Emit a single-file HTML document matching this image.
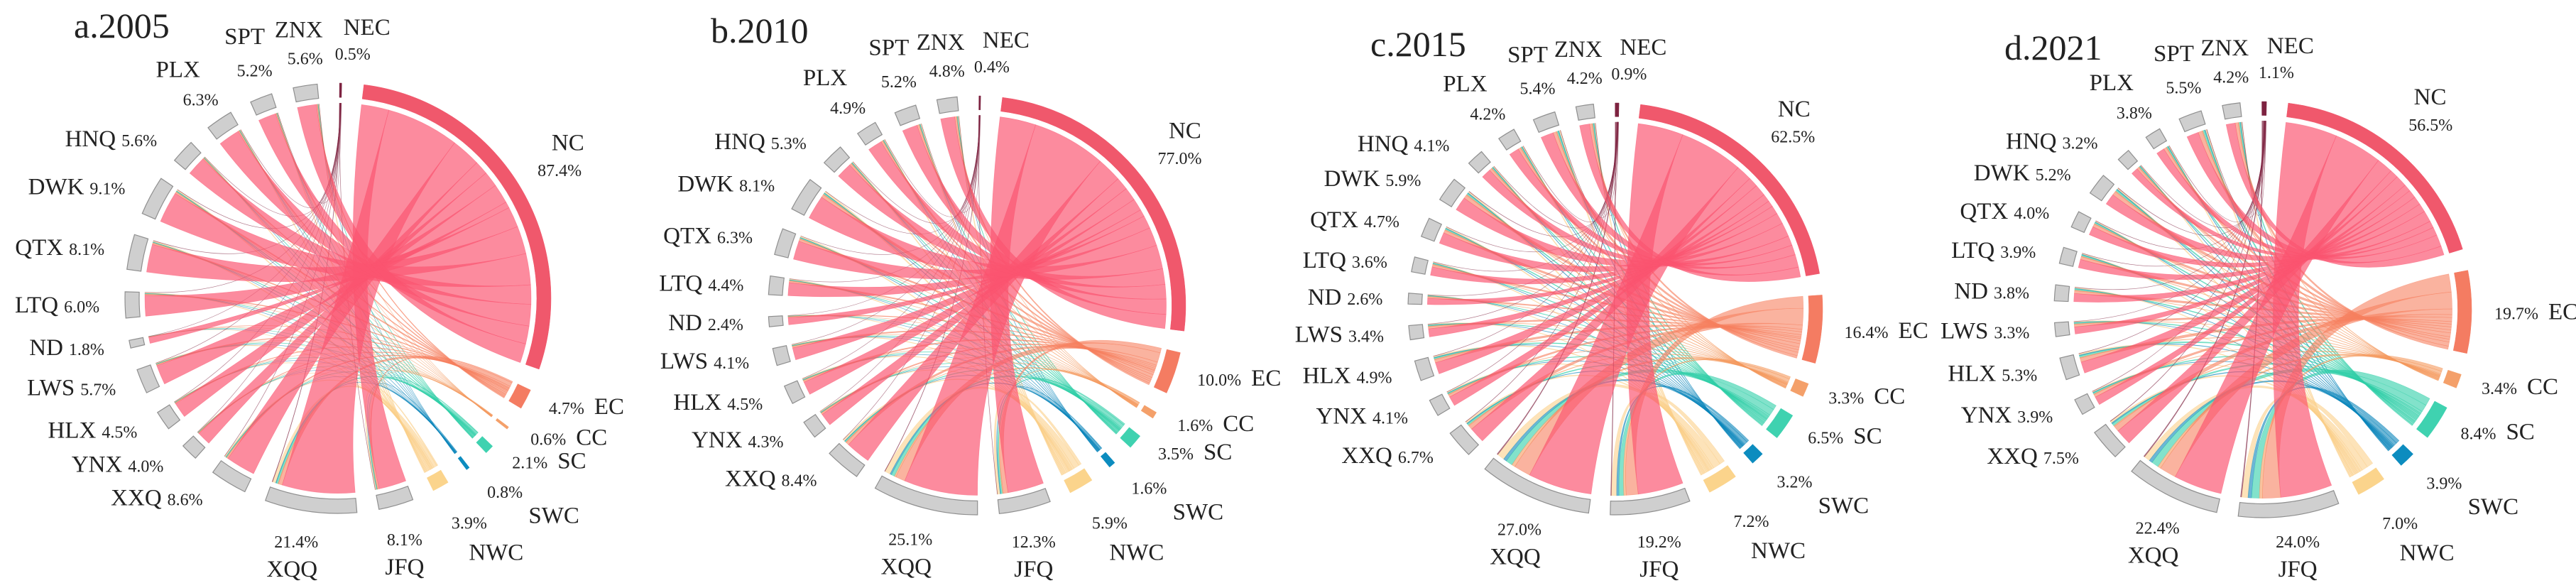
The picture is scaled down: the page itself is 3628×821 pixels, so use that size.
<!DOCTYPE html>
<html><head><meta charset="utf-8">
<style>
html,body{margin:0;padding:0;background:#fff;width:3628px;height:821px;overflow:hidden;}
svg{display:block;position:absolute;left:0;top:0;overflow:hidden;}
text{font-family:"Liberation Serif","DejaVu Serif",serif;fill:#222;}
</style></head>
<body>
<svg id="chart" width="3628" height="821" viewBox="0 0 3628 821" xmlns="http://www.w3.org/2000/svg"></svg>
<script>
const srcNames = ["NC","EC","CC","SC","SWC","NWC","NEC"];
const dstNames = ["JFQ","XQQ","XXQ","YNX","HLX","LWS","ND","LTQ","QTX","DWK","HNQ","PLX","SPT","ZNX"];
const titles = ["a.2005","b.2010","c.2015","d.2021"];
const srcA = [87.4,4.7,0.6,2.1,0.8,3.9,0.5];
const dstA = [8.1,21.4,8.6,4.0,4.5,5.7,1.8,6.0,8.1,9.1,5.6,6.3,5.2,5.6];
const srcB = [77.0,10.0,1.6,3.5,1.6,5.9,0.4];
const dstB = [12.3,25.1,8.4,4.3,4.5,4.1,2.4,4.4,6.3,8.1,5.3,4.9,5.2,4.8];
const srcC = [62.5,16.4,3.3,6.5,3.2,7.2,0.9];
const dstC = [19.2,27.0,6.7,4.1,4.9,3.4,2.6,3.6,4.7,5.9,4.1,4.2,5.4,4.2];
const srcD = [56.5,19.7,3.4,8.4,3.9,7.0,1.1];
const dstD = [24.0,22.4,7.5,3.9,5.3,3.3,3.8,3.9,4.0,5.2,3.2,3.8,5.5,4.2];

const panels = [
  {cx:476, cy:420, rx:300, ry:303, tx:104, ty:53, src:srcA, dst:dstA},
  {cx:1376,cy:430, rx:294, ry:295, tx:1001,ty:60, src:srcB, dst:dstB},
  {cx:2275,cy:435, rx:292, ry:290, tx:1930,ty:79, src:srcC, dst:dstC},
  {cx:3187,cy:436, rx:294, ry:293, tx:2823,ty:84, src:srcD, dst:dstD}
];
const srcRing = {NC:"#f0586c",EC:"#f47c62",CC:"#f4a06a",SC:"#3fd2b0",SWC:"#0c8cbf",NWC:"#fbd48c",NEC:"#7d2240"};
const srcRib  = {NC:"#fb5470",EC:"#f7805f",CC:"#f59a5e",SC:"#2fcfa8",SWC:"#0a86bb",NWC:"#fcd08a",NEC:"#7d2240"};
const NS="http://www.w3.org/2000/svg";
const svg=document.getElementById('chart');
function mk(tag,attrs,parent){const e=document.createElementNS(NS,tag);for(const k in attrs)e.setAttribute(k,attrs[k]);(parent||svg).appendChild(e);return e;}
const GAP=6, START=7;
const D2R=Math.PI/180;
const VY=0.91;

panels.forEach((P,pi)=>{
  const g=mk('g',{});
  
  
  const sx=P.rx/300, sy=P.ry/300;
  const pt=(a,r)=>[P.cx+r*Math.sin(a*D2R)*sx, P.cy-r*Math.cos(a*D2R)*sy];
  const total=P.src.reduce((a,b)=>a+b,0)+P.dst.reduce((a,b)=>a+b,0);
  const unit=(360-21*GAP)/total;
  const order=[];
  for(let i=0;i<6;i++)order.push({n:srcNames[i],v:P.src[i],s:true,i});
  for(let j=0;j<14;j++)order.push({n:dstNames[j],v:P.dst[j],s:false,i:j});
  order.push({n:"NEC",v:P.src[6],s:true,i:6});
  let a=START;
  order.forEach(o=>{o.a0=a;o.a1=a+o.v*unit;o.mid=(o.a0+o.a1)/2;a=o.a1+GAP;});
  const byName={};order.forEach(o=>byName[o.n]=o);
  const dstTot=P.dst.reduce((x,y)=>x+y,0);
  const srcTot=P.src.reduce((x,y)=>x+y,0);
  const arcPath=(a0,a1,r0,r1)=>{
    const p0=pt(a0,r1),p1=pt(a1,r1),p2=pt(a1,r0),p3=pt(a0,r0);
    const lg=(a1-a0)>180?1:0;
    return `M${p0} A${r1*sx} ${r1*sy} 0 ${lg} 1 ${p1} L${p2} A${r0*sx} ${r0*sy} 0 ${lg} 0 ${p3}Z`;
  };
  const srcSeg={};
  srcNames.forEach((sn,si)=>{
    const o=byName[sn];srcSeg[sn]=[];
    let c=o.a0;
    dstNames.forEach((dn,di)=>{
      const w=(o.a1-o.a0)*P.dst[di]/dstTot;
      srcSeg[sn].push([c,c+w]);c+=w;
    });
  });
  const dstSeg={};
  dstNames.forEach((dn,di)=>{
    const o=byName[dn];dstSeg[dn]=[];
    let c=o.a0;
    srcNames.forEach((sn,si)=>{
      const w=(o.a1-o.a0)*P.src[si]/srcTot;
      dstSeg[dn].push([c,c+w]);c+=w;
    });
  });
  const RR=272;
  const rg=mk('g',{},g);
  
  
  const drawOrder=[5,4,3,2,1,6,0];
  drawOrder.forEach(si=>{
    const sn=srcNames[si];
    dstNames.forEach((dn,di)=>{
      const [s0,s1]=srcSeg[sn][di];const [t0,t1]=dstSeg[dn][si];
      const A0=pt(s0,RR),A1=pt(s1,RR),B0=pt(t0,RR),B1=pt(t1,RR);
      const d=`M${A0} A${RR*sx} ${RR*sy} 0 0 1 ${A1} Q${P.cx},${P.cy} ${B0} A${RR*sx} ${RR*sy} 0 0 1 ${B1} Q${P.cx},${P.cy} ${A0}Z`;
      const op = si===0?0.68:0.6;
      const e=mk('path',{d,fill:srcRib[sn],'fill-opacity':op,stroke:srcRib[sn],'stroke-opacity':0.5,'stroke-width':0.6},rg);
      
      
    });
  });
  order.forEach(o=>{
    const col=o.s?srcRing[o.n]:"#cfcfcf";
    const e=mk('path',{d:arcPath(o.a0,o.a1,280,300),fill:col,stroke:o.s?col:"#8f8f8f",'stroke-width':o.s?0.5:1.2},g);
    
    
  });
  const txt=(x,y,s,fs,anchor,name)=>{
    const t=mk('text',{x,y:Math.min(y,812),'font-size':fs,'text-anchor':anchor},g);
    t.textContent=s;
    
    
    return t;
  };
  const special={
    SWC:{p:[52,35],n:[121,72]}, NWC:{p:[40,55],n:[78,101]},
    JFQ:{p:[12,52],n:[12,95]}, XQQ:{p:[-20,47],n:[-26,90]},
    PLX:{p:[-26,-32],n:[-58,-78]}, SPT:{p:[-9,-43],n:[-23,-95]},
    ZNX:{p:[0,-43],n:[-9,-87]}, NEC:{p:[17,-46],n:[37,-87]}
  };
  order.forEach(o=>{
    const pct=o.v.toFixed(1)+'%';
    const key=o.n.toLowerCase();
    const [mx,my]=pt(o.mid,300);
    if(special[o.n]){
      const s=special[o.n];
      let py=my+s.p[1]*VY+9, ny=my+s.n[1]*VY+11;
      if(ny>812){const sh=ny-812;ny-=sh;py-=sh;}
      txt(mx+s.p[0],py,pct,24,'middle','label-pct-'+key);
      txt(mx+s.n[0],ny,o.n,33,'middle','label-name-'+key);
    } else if(o.n==="NC"){
      const [nx,ny]=pt(o.mid-2,390),[px,py]=pt(o.mid+2,360);
      txt(nx,ny+11,o.n,33,'middle','label-name-'+key);
      txt(px,py+9,pct,24,'middle','label-pct-'+key);
    } else if(o.s){
      const y=my-Math.cos(o.mid*D2R)*23+10;
      const t=txt(mx+32,y,'',33,'start','label-'+key);
      const a1=mk('tspan',{'font-size':24},t);a1.textContent=pct+' ';
      const a2=mk('tspan',{'font-size':33,dx:8},t);a2.textContent=o.n;
    } else {
      const y=my-Math.cos(o.mid*D2R)*25+10;
      const t=txt(mx-36,y,'',33,'end','label-'+key);
      const a1=mk('tspan',{'font-size':33},t);a1.textContent=o.n;
      const a2=mk('tspan',{'font-size':24,dx:8},t);a2.textContent=pct;
    }
  });
  const tt=txt(P.tx,P.ty,titles[pi],50,'start','panel-title-'+titles[pi].slice(2));
  tt.setAttribute('fill','#111');
});
</script>
</body></html>
